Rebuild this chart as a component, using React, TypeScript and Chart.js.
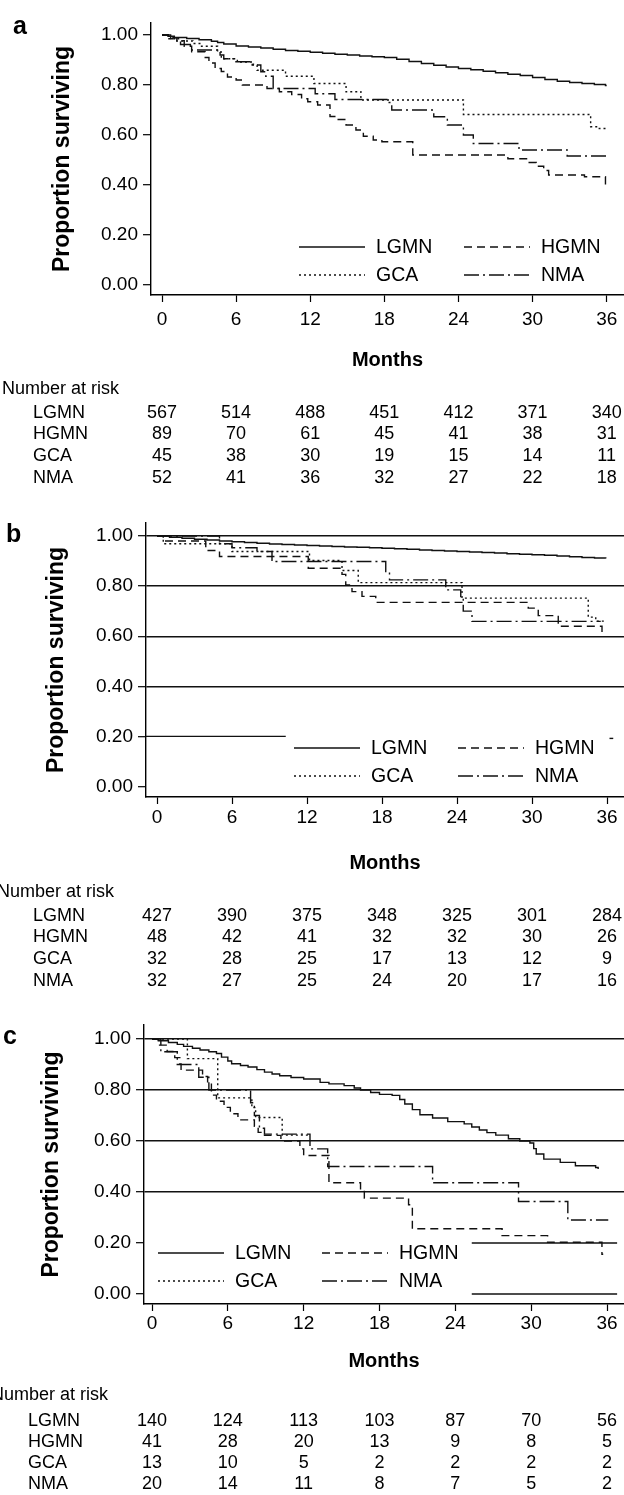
import React, { useEffect, useRef } from 'react';
import { Chart, registerables } from 'chart.js';

Chart.register(...registerables);

const FONT = '"Liberation Sans", Arial, Helvetica, sans-serif';
const INK = '#111';

// ---------- data ----------
const MONTH_TICKS = [0, 6, 12, 18, 24, 30, 36];
const SURV_TICKS = [0, 0.2, 0.4, 0.6, 0.8, 1.0];
const GROUPS = ['LGMN', 'HGMN', 'GCA', 'NMA'];

type Pt = [number, number];

const A_LGMN: Pt[] = [[0,1],[0.5,0.995],[1,0.99],[2,0.986],[3,0.981],[4,0.975],[4.5,0.97],[5,0.964],[6,0.956],[7,0.952],[8,0.948],[9,0.943],[10,0.938],[11,0.935],[12,0.931],[13,0.927],[14,0.923],[15,0.92],[16,0.916],[17,0.913],[18,0.91],[19,0.903],[20,0.894],[21,0.886],[22,0.879],[23,0.872],[24,0.866],[25,0.861],[26,0.855],[27,0.849],[28,0.843],[29,0.838],[30,0.83],[31,0.822],[32,0.815],[33,0.81],[34,0.806],[35,0.802],[35.9,0.798],[36,0.798]];
const A_HGMN: Pt[] = [[0,1],[0.5,0.989],[1.2,0.977],[1.8,0.955],[2.4,0.933],[3.5,0.91],[3.8,0.888],[4.3,0.866],[4.8,0.854],[5.3,0.832],[6.0,0.82],[6.5,0.8],[8.5,0.786],[9.5,0.773],[10.5,0.762],[11.3,0.745],[11.8,0.733],[12.6,0.72],[13.6,0.674],[14.2,0.662],[14.9,0.64],[15.7,0.62],[16.3,0.595],[17.1,0.58],[17.8,0.573],[20.3,0.52],[28.0,0.505],[29.6,0.49],[30.3,0.475],[30.9,0.458],[31.3,0.44],[34.2,0.433],[35.9,0.396],[36,0.396]];
const A_GCA: Pt[] = [[0,1],[0.5,0.985],[1.2,0.976],[2.5,0.966],[3.2,0.955],[4.5,0.932],[4.8,0.905],[6.1,0.892],[7.4,0.879],[7.7,0.859],[10.0,0.835],[12.3,0.806],[14.9,0.773],[16.1,0.74],[24.4,0.682],[34.7,0.633],[35.4,0.626],[36,0.626]];
const A_NMA: Pt[] = [[0,1],[0.7,0.985],[1.5,0.962],[2.3,0.94],[4.7,0.92],[5.0,0.905],[5.8,0.893],[7.3,0.88],[8.0,0.853],[8.4,0.835],[9.0,0.786],[12.4,0.765],[14.0,0.742],[18.2,0.73],[18.6,0.7],[22.0,0.673],[23.1,0.64],[24.4,0.6],[25.2,0.566],[28.9,0.54],[32.8,0.516],[36,0.515]];

const B_LGMN: Pt[] = [[0,1],[1,0.995],[2,0.991],[3,0.987],[4,0.984],[5,0.98],[6,0.977],[7,0.974],[8,0.971],[9,0.968],[10,0.966],[11,0.964],[12,0.962],[13,0.96],[14,0.958],[15,0.956],[16,0.955],[17,0.953],[18,0.951],[19,0.949],[20,0.947],[21,0.944],[22,0.942],[23,0.94],[24,0.938],[25,0.936],[26,0.934],[27,0.932],[28,0.929],[29,0.927],[30,0.925],[31,0.923],[32,0.92],[33,0.917],[34,0.914],[35,0.912],[35.9,0.91]];
const B_HGMN: Pt[] = [[0,1],[0.5,0.98],[3.9,0.958],[4.0,0.942],[5.0,0.918],[12.1,0.871],[14.8,0.847],[15.1,0.805],[15.6,0.778],[16.4,0.759],[17.5,0.735],[29.7,0.712],[30.5,0.682],[32.1,0.64],[35.6,0.615],[35.7,0.615]];
const B_GCA: Pt[] = [[0,1],[0.5,0.969],[6.0,0.938],[12.2,0.902],[14.8,0.862],[16.1,0.814],[24.4,0.752],[34.5,0.676],[35.1,0.66],[35.8,0.66]];
const B_NMA: Pt[] = [[0,1],[5.0,0.969],[6.0,0.953],[8.0,0.938],[9.2,0.898],[18.3,0.858],[18.6,0.825],[23.1,0.785],[24.3,0.752],[24.5,0.7],[25.2,0.659],[35.5,0.659]];

const C_LGMN: Pt[] = [[0,1],[0.5,0.993],[1.3,0.986],[2,0.979],[2.5,0.971],[3.2,0.964],[3.8,0.957],[4.5,0.95],[5.1,0.943],[5.5,0.929],[6,0.914],[6.3,0.903],[7,0.896],[7.6,0.89],[8.3,0.88],[8.9,0.87],[9.5,0.863],[10.1,0.856],[11,0.849],[12,0.843],[13.3,0.83],[14,0.824],[15.2,0.817],[16,0.808],[16.5,0.8],[17.3,0.79],[18,0.783],[19,0.779],[19.6,0.763],[20,0.745],[20.6,0.723],[21.2,0.703],[22.2,0.69],[23.4,0.676],[24.7,0.667],[25.3,0.655],[25.9,0.643],[26.5,0.633],[27.2,0.623],[28.2,0.609],[29.1,0.6],[29.9,0.592],[30.2,0.57],[30.4,0.549],[31,0.529],[32.3,0.516],[33.5,0.503],[35.1,0.496],[35.3,0.49]];
const C_HGMN: Pt[] = [[0,1],[0.5,0.976],[1.2,0.951],[1.8,0.927],[2.2,0.902],[2.3,0.878],[4.0,0.853],[4.4,0.829],[4.7,0.78],[5.1,0.756],[5.7,0.732],[6.2,0.707],[6.8,0.683],[8.1,0.658],[8.4,0.634],[8.9,0.622],[10.2,0.6],[11.7,0.569],[12.0,0.543],[14.0,0.436],[16.5,0.407],[16.8,0.376],[20.3,0.35],[20.6,0.256],[27.7,0.229],[31.3,0.203],[35.6,0.156],[35.7,0.156]];
const C_GCA: Pt[] = [[0,1],[2.8,0.923],[5.2,0.769],[7.9,0.731],[8.2,0.692],[10.3,0.623],[12.4,0.623]];
const C_NMA: Pt[] = [[0,1],[0.7,0.95],[2.0,0.9],[3.7,0.85],[4.5,0.8],[7.8,0.75],[8.1,0.7],[8.5,0.65],[8.9,0.627],[12.5,0.569],[13.9,0.5],[22.2,0.436],[29.0,0.363],[32.9,0.29],[36.1,0.29]];

// number at risk, rows in GROUPS order, columns at MONTH_TICKS
const RISK_A = [[567,514,488,451,412,371,340],[89,70,61,45,41,38,31],[45,38,30,19,15,14,11],[52,41,36,32,27,22,18]];
const RISK_B = [[427,390,375,348,325,301,284],[48,42,41,32,32,30,26],[32,28,25,17,13,12,9],[32,27,25,24,20,17,16]];
const RISK_C = [[140,124,113,103,87,70,56],[41,28,20,13,9,8,5],[13,10,5,2,2,2,2],[20,14,11,8,7,5,2]];

// scanned reference lines visible in panels b and c (value levels / [from, to, level])
const B_REF_LEVELS = [1.0, 0.8, 0.6, 0.4];
const B_REF_SEGMENTS: [number, number, number][] = [[-1, 10.3, 0.2], [36.2, 36.5, 0.192]];
const C_REF_LEVELS = [1.0, 0.8, 0.6, 0.4];
const C_REF_SEGMENTS: [number, number, number][] = [[25.3, 36.8, 0.2], [25.3, 36.8, 0.0]];

// ---------- styles / layout ----------
const DASHES: number[][] = [[], [8, 5], [2, 3], [15, 4, 2, 4]];

type Geo = {
  top: number; height: number; yTop: number; y1: number; y0: number; xAxis: number;
  yAxisX: number; x0: number; x36: number; tickLabelY: number; monthsY: number;
  narY: number; rowsY: number[]; narX: number; rowLabelX: number;
  letter: string; letterX: number; letterBase: number; yTitleX: number;
  legRows: number[]; legCol1: [number, number]; legCol2: [number, number];
};

const GEO: Geo[] = [
  { top: 0, height: 502, yTop: 23, y1: 35, y0: 285, xAxis: 295, yAxisX: 151, x0: 162, x36: 606.7,
    tickLabelY: 320, monthsY: 360, narY: 389, rowsY: [413, 434, 456, 478], narX: 2, rowLabelX: 33,
    letter: 'a', letterX: 13, letterBase: 33.5, yTitleX: 63,
    legRows: [247, 275], legCol1: [299, 365], legCol2: [464, 530] },
  { top: 502, height: 502, yTop: 523, y1: 536, y0: 786.5, xAxis: 797, yAxisX: 146, x0: 157, x36: 607,
    tickLabelY: 818, monthsY: 863, narY: 892, rowsY: [916, 937, 959, 981], narX: -3, rowLabelX: 33,
    letter: 'b', letterX: 6, letterBase: 542, yTitleX: 57,
    legRows: [748, 776], legCol1: [294, 360], legCol2: [458, 524] },
  { top: 1004, height: 491, yTop: 1025, y1: 1039, y0: 1294, xAxis: 1304, yAxisX: 144, x0: 152, x36: 607,
    tickLabelY: 1324, monthsY: 1361, narY: 1395, rowsY: [1421, 1442, 1463, 1484], narX: -9, rowLabelX: 28,
    letter: 'c', letterX: 3, letterBase: 1044, yTitleX: 52,
    legRows: [1253, 1281], legCol1: [158, 224], legCol2: [322, 388] },
];

const PANEL_DATA = [
  { curves: [A_LGMN, A_HGMN, A_GCA, A_NMA], risk: RISK_A, levels: [] as number[], segments: [] as [number, number, number][] },
  { curves: [B_LGMN, B_HGMN, B_GCA, B_NMA], risk: RISK_B, levels: B_REF_LEVELS, segments: B_REF_SEGMENTS },
  { curves: [C_LGMN, C_HGMN, C_GCA, C_NMA], risk: RISK_C, levels: C_REF_LEVELS, segments: C_REF_SEGMENTS },
];

const TICK_SIZE = 19;
const LEG_SIZE = 19.5;
const TAB_SIZE = 18;
const YTITLE_SIZE = 23;

function Panel({ geo, pd }: { geo: Geo; pd: typeof PANEL_DATA[number] }) {
  const ref = useRef<HTMLCanvasElement>(null);
  useEffect(() => {
    const canvas = ref.current;
    if (!canvas) return;
    const T = geo.top;
    const H = geo.height;
    const ppu = geo.y0 - geo.y1;
    const yMax = 1 + (geo.y1 - geo.yTop) / ppu;
    const yMin = -(geo.xAxis - geo.y0) / ppu;
    const ppm = (geo.x36 - geo.x0) / 36;
    const xMin = -(geo.x0 - geo.yAxisX) / ppm;
    const xMax = 36 + (624 - geo.x36) / ppm;
    const xTitleLH = 20 * 1.2;
    const xScaleH = geo.monthsY - geo.xAxis + xTitleLH / 2;
    const padBottom = T + H - geo.xAxis - xScaleH;
    const tickLH = TICK_SIZE * 1.2;
    const xTickPad = geo.tickLabelY - geo.xAxis - 7 - tickLH / 2;
    const yTitleLH = YTITLE_SIZE * 1.2;

    const overlay = {
      id: 'overlay',
      beforeDatasetsDraw(chart: any) {
        const ctx = chart.ctx;
        const xs = chart.scales.x, ys = chart.scales.y;
        ctx.save();
        ctx.strokeStyle = INK;
        ctx.lineWidth = 1.4;
        pd.segments.forEach(([a, b, v]) => {
          const y = ys.getPixelForValue(v);
          ctx.beginPath();
          ctx.moveTo(Math.max(xs.getPixelForValue(a), chart.chartArea.left), y);
          ctx.lineTo(Math.min(xs.getPixelForValue(b), 624), y);
          ctx.stroke();
        });
        ctx.restore();
      },
      afterDraw(chart: any) {
        const ctx = chart.ctx;
        const xs = chart.scales.x;
        ctx.save();
        ctx.fillStyle = '#000';
        // panel letter
        ctx.font = `bold 25px ${FONT}`;
        ctx.textAlign = 'left';
        ctx.textBaseline = 'alphabetic';
        ctx.fillText(geo.letter, geo.letterX, geo.letterBase - T);
        // legend
        ctx.textBaseline = 'middle';
        ctx.font = `${LEG_SIZE}px ${FONT}`;
        GROUPS.forEach((g, i) => {
          const row = geo.legRows[Math.floor(i / 2)] - T;
          const col = i % 2 === 0 ? geo.legCol1 : geo.legCol2;
          ctx.save();
          ctx.strokeStyle = INK;
          ctx.lineWidth = 1.4;
          ctx.setLineDash(DASHES[i]);
          ctx.beginPath();
          ctx.moveTo(col[0], row);
          ctx.lineTo(col[1], row);
          ctx.stroke();
          ctx.restore();
          ctx.fillText(g, col[1] + 11, row + 1);
        });
        // number at risk table
        ctx.font = `${TAB_SIZE}px ${FONT}`;
        ctx.textAlign = 'left';
        ctx.fillText('Number at risk', geo.narX, geo.narY - T);
        GROUPS.forEach((g, r) => {
          const y = geo.rowsY[r] - T;
          ctx.textAlign = 'left';
          ctx.fillText(g, geo.rowLabelX, y);
          ctx.textAlign = 'center';
          MONTH_TICKS.forEach((m, c) => {
            ctx.fillText(String(pd.risk[r][c]), xs.getPixelForValue(m), y);
          });
        });
        ctx.restore();
      },
    };

    const isLevel = (v: number) => pd.levels.some((l) => Math.abs(l - v) < 1e-6);

    const chart = new Chart(canvas, {
      type: 'line',
      data: {
        datasets: pd.curves.map((c, i) => ({
          label: GROUPS[i],
          data: c.map(([x, y]) => ({ x, y })),
          borderColor: INK,
          borderWidth: 1.4,
          borderDash: DASHES[i],
          pointRadius: 0,
          fill: false,
          stepped: true,
          tension: 0,
        })),
      },
      options: {
        animation: false,
        responsive: false,
        maintainAspectRatio: false,
        events: [],
        layout: { padding: { top: geo.yTop - T, left: 0, right: 0, bottom: padBottom } },
        plugins: { legend: { display: false }, tooltip: { enabled: false }, title: { display: false } },
        scales: {
          x: {
            type: 'linear',
            min: xMin,
            max: xMax,
            afterBuildTicks: (s: any) => { s.ticks = MONTH_TICKS.map((v) => ({ value: v })); },
            afterFit: (s: any) => { s.height = xScaleH; },
            grid: { drawOnChartArea: false, drawTicks: true, tickLength: 7, tickColor: '#000', tickWidth: 1.2, color: '#000' },
            border: { display: true, color: '#000', width: 1.4 },
            ticks: {
              autoSkip: false, maxRotation: 0, minRotation: 0, padding: xTickPad, color: '#000',
              font: { family: FONT, size: TICK_SIZE },
              callback: (v: any) => String(v),
            },
            title: {
              display: true, text: 'Months', color: '#000',
              font: { family: FONT, size: 20, weight: 'bold' },
              padding: { top: 0, bottom: 0 },
            },
          },
          y: {
            type: 'linear',
            min: yMin,
            max: yMax,
            afterBuildTicks: (s: any) => { s.ticks = SURV_TICKS.map((v) => ({ value: v })); },
            afterFit: (s: any) => { s.width = geo.yAxisX; },
            grid: {
              drawOnChartArea: pd.levels.length > 0,
              drawTicks: true, tickLength: 8, tickColor: '#000', tickWidth: 1.2,
              lineWidth: 1.4,
              color: (c: any) => (c.tick && isLevel(c.tick.value) ? INK : 'rgba(0,0,0,0)'),
            },
            border: { display: true, color: '#000', width: 1.4 },
            ticks: {
              autoSkip: false, padding: 5, color: '#000',
              font: { family: FONT, size: TICK_SIZE },
              callback: (v: any) => Number(v).toFixed(2),
            },
            title: {
              display: true, text: 'Proportion surviving', color: '#000',
              font: { family: FONT, size: YTITLE_SIZE, weight: 'bold' },
              padding: { top: geo.yTitleX - yTitleLH / 2, bottom: 0 },
            },
          },
        },
      },
      plugins: [overlay],
    } as any);
    return () => chart.destroy();
  }, [geo, pd]);
  return (
    <canvas
      ref={ref}
      width={624}
      height={geo.height}
      style={{ position: 'absolute', left: 0, top: geo.top, width: 624, height: geo.height, display: 'block' }}
    />
  );
}

export default function App() {
  return (
    <div style={{ position: 'absolute', left: 0, top: 0, width: 624, height: 1495, background: '#fff', overflow: 'hidden' }}>
      {GEO.map((g, i) => (
        <Panel key={i} geo={g} pd={PANEL_DATA[i]} />
      ))}
    </div>
  );
}
